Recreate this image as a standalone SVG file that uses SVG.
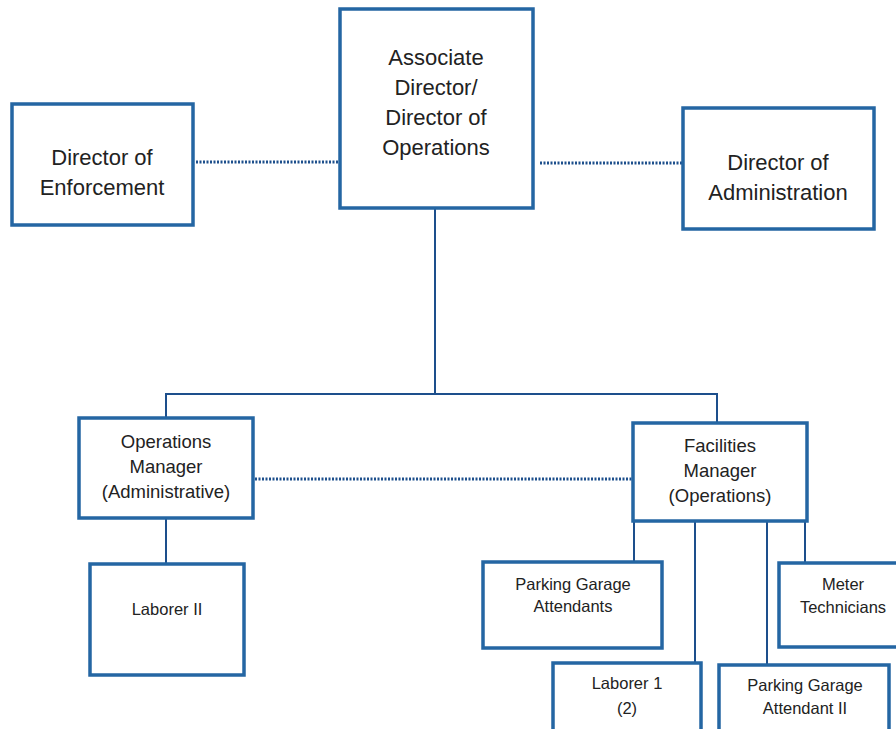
<svg xmlns="http://www.w3.org/2000/svg" width="896" height="729" viewBox="0 0 896 729">
<style>
.box{fill:#fff;stroke:#2466a3;stroke-width:3.5}
.ln{stroke:#1d4f8c;stroke-width:2;fill:none}
.dot{stroke:#1d4f8c;stroke-width:3;stroke-dasharray:2 1.5;fill:none}
text{font-family:"Liberation Sans",Arial,sans-serif;fill:#222;text-anchor:middle}
.t1{font-size:22px}
.t2{font-size:18.5px}
.t3{font-size:16.5px}
</style>
<rect width="896" height="729" fill="#fff"/>
<g id="connectors">
<line class="dot" x1="196" y1="162" x2="338" y2="162"/>
<line class="dot" x1="540" y1="163" x2="682" y2="163"/>
<line class="dot" x1="255" y1="479" x2="632" y2="479"/>
<line class="ln" x1="435" y1="208" x2="435" y2="394"/>
<polyline class="ln" points="166,418 166,394 717,394 717,423"/>
<line class="ln" x1="166" y1="518" x2="166" y2="564"/>
<line class="ln" x1="634" y1="521" x2="634" y2="562"/>
<line class="ln" x1="695" y1="521" x2="695" y2="663"/>
<line class="ln" x1="767" y1="521" x2="767" y2="665"/>
<line class="ln" x1="805" y1="521" x2="805" y2="563"/>
</g>
<g id="associate-director">
<rect class="box" x="340" y="9" width="193" height="199"/>
<text class="t1" x="436" y="65">Associate</text>
<text class="t1" x="436" y="95">Director/</text>
<text class="t1" x="436" y="125">Director of</text>
<text class="t1" x="436" y="155">Operations</text>
</g>
<g id="director-enforcement">
<rect class="box" x="12" y="104" width="181" height="121"/>
<text class="t1" x="102" y="165">Director of</text>
<text class="t1" x="102" y="195">Enforcement</text>
</g>
<g id="director-administration">
<rect class="box" x="683" y="108" width="191" height="121"/>
<text class="t1" x="778" y="170">Director of</text>
<text class="t1" x="778" y="200">Administration</text>
</g>
<g id="operations-manager">
<rect class="box" x="79" y="418" width="174" height="100"/>
<text class="t2" x="166" y="448">Operations</text>
<text class="t2" x="166" y="473">Manager</text>
<text class="t2" x="166" y="498">(Administrative)</text>
</g>
<g id="facilities-manager">
<rect class="box" x="633" y="423" width="174" height="98"/>
<text class="t2" x="720" y="452">Facilities</text>
<text class="t2" x="720" y="477">Manager</text>
<text class="t2" x="720" y="502">(Operations)</text>
</g>
<g id="laborer-ii">
<rect class="box" x="90" y="564" width="154" height="111"/>
<text class="t3" x="167" y="615">Laborer II</text>
</g>
<g id="parking-garage-attendants">
<rect class="box" x="483" y="562" width="179" height="86"/>
<text class="t3" x="573" y="590">Parking Garage</text>
<text class="t3" x="573" y="612">Attendants</text>
</g>
<g id="meter-technicians">
<rect class="box" x="779" y="563" width="125" height="84"/>
<text class="t3" x="843" y="590">Meter</text>
<text class="t3" x="843" y="613">Technicians</text>
</g>
<g id="laborer-1">
<rect class="box" x="553" y="663" width="148" height="80"/>
<text class="t3" x="627" y="689">Laborer 1</text>
<text class="t3" x="627" y="714">(2)</text>
</g>
<g id="parking-garage-attendant-ii">
<rect class="box" x="719" y="665" width="170" height="80"/>
<text class="t3" x="805" y="691">Parking Garage</text>
<text class="t3" x="805" y="714">Attendant II</text>
</g>
</svg>
